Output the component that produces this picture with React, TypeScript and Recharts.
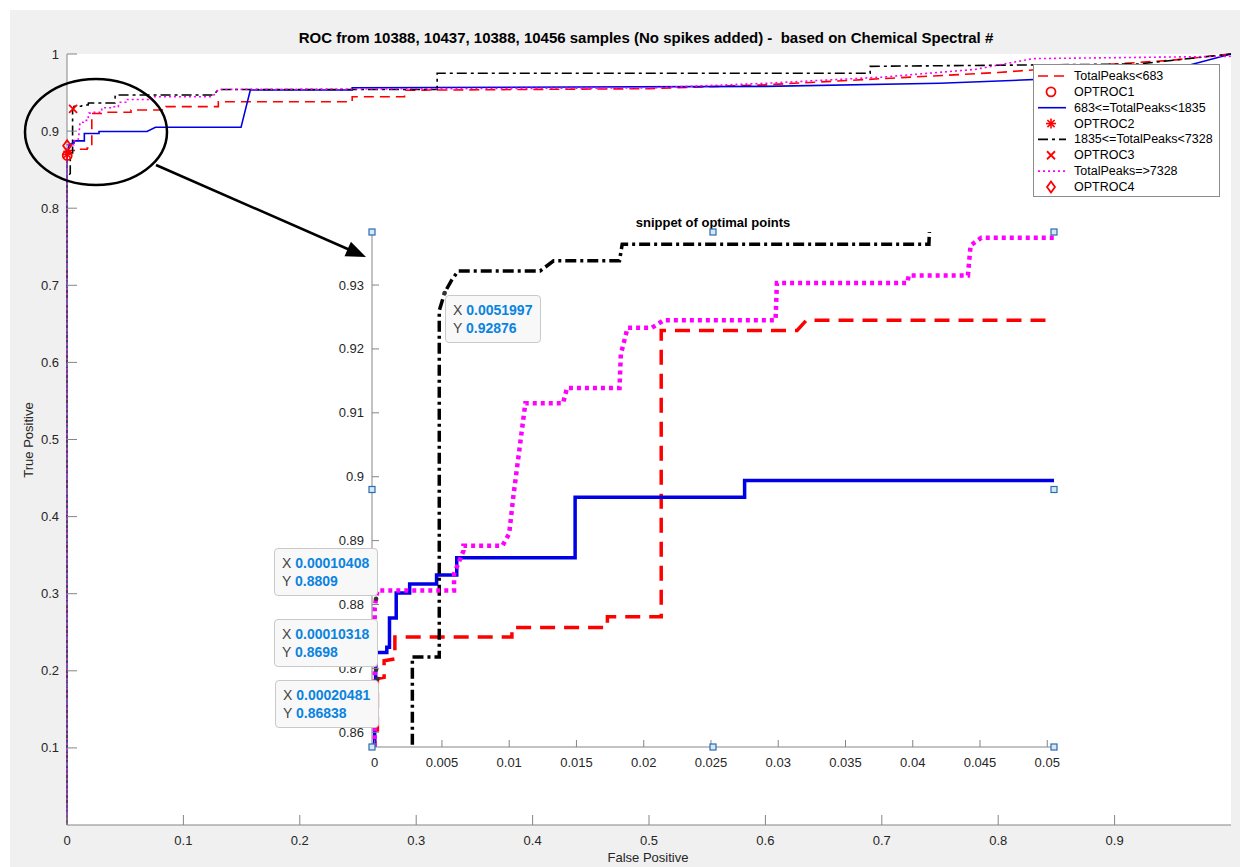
import { ComposedChart, Line, Scatter, XAxis, YAxis, CartesianGrid } from 'recharts'

type Pt = [number, number]

// ROC curves, [false positive, true positive]
const redCurve: Pt[] = [
  [0, 0], [0, 0.8585], [0.0002, 0.86], [0.0002, 0.8684], [0.0007, 0.8686], [0.0007, 0.8712],
  [0.0015, 0.8715], [0.0015, 0.8749], [0.0102, 0.8749], [0.0102, 0.8764], [0.0173, 0.8764],
  [0.0173, 0.8781], [0.0213, 0.8781], [0.0213, 0.9229], [0.0314, 0.9229], [0.0321, 0.9245],
  [0.055, 0.9245], [0.055, 0.9274], [0.085, 0.9274], [0.085, 0.9317], [0.13, 0.9317],
  [0.13, 0.938], [0.245, 0.938], [0.245, 0.9446], [0.29, 0.9446], [0.29, 0.953], [0.5, 0.955],
  [0.6, 0.96], [0.7, 0.968], [0.8, 0.976], [0.88, 0.985], [0.95, 0.992], [1, 1],
]
const blueCurve: Pt[] = [
  [0, 0], [0, 0.86], [0.0001, 0.8725], [0.0009, 0.8725], [0.0009, 0.8733], [0.0011, 0.8733],
  [0.0011, 0.8779], [0.0016, 0.8779], [0.0016, 0.8818], [0.0026, 0.8818], [0.0026, 0.8832],
  [0.0046, 0.8832], [0.0046, 0.8846], [0.0061, 0.8846], [0.0061, 0.8873], [0.0149, 0.8873],
  [0.0149, 0.8968], [0.0275, 0.8968], [0.0275, 0.8994], [0.0687, 0.8994], [0.076, 0.9049],
  [0.1495, 0.9049], [0.1575, 0.9533], [0.245, 0.9533], [0.245, 0.9563], [0.6, 0.958],
  [0.75, 0.962], [0.85, 0.968], [0.95, 0.98], [1, 1],
]
const blackCurve: Pt[] = [
  [0, 0], [0, 0.84], [0.0028, 0.845], [0.0028, 0.8718], [0.0048, 0.8718], [0.0048, 0.926],
  [0.0052, 0.9288], [0.0057, 0.9307], [0.0062, 0.9322], [0.0123, 0.9322], [0.0133, 0.9338],
  [0.0182, 0.9338], [0.0184, 0.9364], [0.0412, 0.9364], [0.0414, 0.9468], [0.126, 0.9468],
  [0.13, 0.954], [0.318, 0.954], [0.318, 0.975], [0.69, 0.975], [0.69, 0.984], [0.92, 0.987],
  [1, 1],
]
const magentaCurve: Pt[] = [
  [0, 0], [0, 0.8795], [0.0001, 0.8809], [0.0002, 0.8822], [0.0059, 0.8822], [0.0059, 0.8848],
  [0.0066, 0.8884], [0.0066, 0.8892], [0.0095, 0.8892], [0.01, 0.8911], [0.0103, 0.8968],
  [0.0112, 0.9115], [0.014, 0.9115], [0.0143, 0.9139], [0.0182, 0.9139], [0.0183, 0.9192],
  [0.0188, 0.9233], [0.0206, 0.9233], [0.0215, 0.9245], [0.0298, 0.9245], [0.0299, 0.9303],
  [0.0396, 0.9303], [0.0397, 0.9315], [0.0441, 0.9315], [0.0443, 0.9362], [0.0451, 0.9374],
  [0.052, 0.9374], [0.052, 0.941], [0.07, 0.941], [0.07, 0.9446], [0.125, 0.9446],
  [0.13, 0.954], [0.5, 0.956], [0.6, 0.962], [0.7, 0.97], [0.78, 0.98], [0.83, 0.994],
  [1, 0.997], [1, 1],
]

// optimal operating points
const optNames = ['OPTROC1', 'OPTROC2', 'OPTROC3', 'OPTROC4']
const optFP = [0.00020481, 0.00010318, 0.0051997, 0.00010408]
const optTP = [0.86838, 0.8698, 0.92876, 0.8809]

const mainXTicks = [0, 0.1, 0.2, 0.3, 0.4, 0.5, 0.6, 0.7, 0.8, 0.9]
const mainYTicks = [0.1, 0.2, 0.3, 0.4, 0.5, 0.6, 0.7, 0.8, 0.9, 1]
const insetXTicks = [0, 0.005, 0.01, 0.015, 0.02, 0.025, 0.03, 0.035, 0.04, 0.045, 0.05]
const insetYTicks = [0.86, 0.87, 0.88, 0.89, 0.9, 0.91, 0.92, 0.93]

const rows = (c: Pt[]) => c.map(([fp, tp]) => ({ fp, tp }))
const optRows = optNames.map((name, i) => ({ name, fp: optFP[i], tp: optTP[i] }))

const FONT = '"Liberation Sans", Arial, Helvetica, sans-serif'
const AX = '#858585'
const TXT = '#262626'
const TIP = '#0a84e0'

const series = [
  { name: 'TotalPeaks<683', data: rows(redCurve), color: '#ff0000', dash: '10 6', insetDash: '15 9', width: 3.5 },
  { name: '683<=TotalPeaks<1835', data: rows(blueCurve), color: '#0000e6', dash: undefined, insetDash: undefined, width: 3.5 },
  { name: '1835<=TotalPeaks<7328', data: rows(blackCurve), color: '#000000', dash: '10 4 3 4', insetDash: '11 4 3 4', width: 3.5 },
  { name: 'TotalPeaks=>7328', data: rows(magentaCurve), color: '#ff00ff', dash: '2 3', insetDash: '4 4', width: 4.5 },
]

function Marker({ kind, cx, cy }: { kind: string; cx: number; cy: number }) {
  const c = '#ff0000'
  if (kind === 'o') return <circle cx={cx} cy={cy} r={4.5} fill="none" stroke={c} strokeWidth={1.8} />
  if (kind === 'x')
    return (
      <g stroke={c} strokeWidth={1.8}>
        <line x1={cx - 4} y1={cy - 4} x2={cx + 4} y2={cy + 4} />
        <line x1={cx - 4} y1={cy + 4} x2={cx + 4} y2={cy - 4} />
      </g>
    )
  if (kind === '*')
    return (
      <g stroke={c} strokeWidth={1.6}>
        <line x1={cx - 5} y1={cy} x2={cx + 5} y2={cy} />
        <line x1={cx} y1={cy - 5} x2={cx} y2={cy + 5} />
        <line x1={cx - 3.6} y1={cy - 3.6} x2={cx + 3.6} y2={cy + 3.6} />
        <line x1={cx - 3.6} y1={cy + 3.6} x2={cx + 3.6} y2={cy - 3.6} />
      </g>
    )
  return (
    <polygon
      points={`${cx},${cy - 5.5} ${cx + 4},${cy} ${cx},${cy + 5.5} ${cx - 4},${cy}`}
      fill="none"
      stroke={c}
      strokeWidth={1.8}
    />
  )
}

const markerKinds = ['o', '*', 'x', 'd']

// inward tick marks, MATLAB style
const bottomTick = (len: number) => (p: any) => (
  <g>
    <line x1={p.x} x2={p.x} y1={p.y} y2={p.y - len} stroke={AX} />
    <text x={p.x} y={p.y + 15} textAnchor="middle" dominantBaseline="central" fontSize={13} fill={TXT} fontFamily={FONT}>
      {p.payload.value}
    </text>
  </g>
)
const topTick = (len: number) => (p: any) => <line x1={p.x} x2={p.x} y1={p.y} y2={p.y + len} stroke={AX} />
const leftTick = (len: number) => (p: any) => (
  <g>
    <line x1={p.x} x2={p.x + len} y1={p.y} y2={p.y} stroke={AX} />
    <text x={p.x - 8} y={p.y} textAnchor="end" dominantBaseline="central" fontSize={13} fill={TXT} fontFamily={FONT}>
      {p.payload.value}
    </text>
  </g>
)
const rightTick = (len: number) => (p: any) => <line x1={p.x} x2={p.x - len} y1={p.y} y2={p.y} stroke={AX} />

function Axes({ xd, yd, xt, yt, len, clip }: any) {
  return [
    <XAxis key="xb" xAxisId={0} type="number" dataKey="fp" domain={xd} ticks={xt} interval={0} allowDataOverflow={clip}
      height={25} tickSize={0} tickMargin={0} tickLine={false} axisLine={{ stroke: AX }} tick={bottomTick(len)} />,
    <XAxis key="xt" xAxisId="top" orientation="top" type="number" dataKey="fp" domain={xd} ticks={xt} interval={0} allowDataOverflow={clip}
      height={0} tickSize={0} tickMargin={0} tickLine={false} axisLine={{ stroke: AX }} tick={topTick(len)} />,
    <YAxis key="yl" yAxisId={0} type="number" dataKey="tp" domain={yd} ticks={yt} interval={0} allowDataOverflow={clip}
      width={40} tickSize={0} tickMargin={0} tickLine={false} axisLine={{ stroke: AX }} tick={leftTick(len)} />,
    <YAxis key="yr" yAxisId="right" orientation="right" type="number" dataKey="tp" domain={yd} ticks={yt} interval={0} allowDataOverflow={clip}
      width={0} tickSize={0} tickMargin={0} tickLine={false} axisLine={{ stroke: AX }} tick={rightTick(len)} />,
  ]
}

// selection handles around the inset axes
const handles: Pt[] = [
  [372, 232], [713, 232], [1054, 232], [372, 489.5], [1054, 489.5], [372, 747], [713, 747], [1054, 747],
]

const tips = [
  { left: 445, top: 295, i: 2 },
  { left: 274, top: 548, i: 3 },
  { left: 274, top: 619, i: 1 },
  { left: 275, top: 680, i: 0 },
]

export default function App() {
  return (
    <div style={{ position: 'relative', width: 1240, height: 867, background: '#fff', overflow: 'hidden', fontFamily: FONT }}>
      <style>{'body{margin:0}'}</style>
      <div style={{ position: 'absolute', left: 10, top: 10, right: 0, bottom: 0, background: '#f0f0f0' }} />

      <div style={{ position: 'absolute', left: 0, top: 0 }}>
        <ComposedChart width={1240} height={867} margin={{ top: 54, right: 9, bottom: 17, left: 27 }}>
          <CartesianGrid fill="#fff" horizontal={false} vertical={false} />
          {Axes({ xd: [0, 1], yd: [0, 1], xt: mainXTicks, yt: mainYTicks, len: 10, clip: false })}
          {series.map((s) => (
            <Line key={s.name} data={s.data} dataKey="tp" type="linear" stroke={s.color} strokeWidth={1.6}
              strokeDasharray={s.dash} dot={false} isAnimationActive={false} />
          ))}
          {optRows.map((r, i) => (
            <Scatter key={r.name} data={[r]} dataKey="tp" isAnimationActive={false}
              shape={(p: any) => <Marker kind={markerKinds[i]} cx={p.cx} cy={p.cy} />} />
          ))}
        </ComposedChart>
      </div>

      <div style={{ position: 'absolute', left: 300, top: 200 }}>
        <ComposedChart width={760} height={580} margin={{ top: 32, right: 6, bottom: 8, left: 32 }}>
          <CartesianGrid fill="#fff" horizontal={false} vertical={false} />
          {Axes({ xd: [-0.0002, 0.0505], yd: [0.8577, 0.9383], xt: insetXTicks, yt: insetYTicks, len: 7, clip: true })}
          {series.map((s) => (
            <Line key={s.name} data={s.data} dataKey="tp" type="linear" stroke={s.color} strokeWidth={s.width}
              strokeDasharray={s.insetDash} dot={false} isAnimationActive={false} />
          ))}
          <Scatter data={optRows} dataKey="tp" isAnimationActive={false}
            shape={(p: any) => <circle cx={p.cx} cy={p.cy} r={2.3} fill="#333" />} />
        </ComposedChart>
      </div>

      <svg width={1240} height={867} style={{ position: 'absolute', left: 0, top: 0, pointerEvents: 'none' }} fontFamily={FONT}>
        <text x={646} y={37} textAnchor="middle" dominantBaseline="central" fontSize={15} fontWeight="bold" fill="#000"
          style={{ whiteSpace: 'pre' }}>
          ROC from 10388, 10437, 10388, 10456 samples (No spikes added) -  based on Chemical Spectral #
        </text>
        <text x={648} y={857} textAnchor="middle" dominantBaseline="central" fontSize={13} fill={TXT}>False Positive</text>
        <text x={28} y={440} textAnchor="middle" dominantBaseline="central" fontSize={13} fill={TXT} transform="rotate(-90 28 440)">
          True Positive
        </text>
        <text x={713} y={222} textAnchor="middle" dominantBaseline="central" fontSize={13} fontWeight="bold" fill="#000">
          snippet of optimal points
        </text>
        <ellipse cx={96} cy={132} rx={71} ry={53} fill="none" stroke="#000" strokeWidth={2.5} />
        <line x1={156} y1={165} x2={350} y2={250} stroke="#000" strokeWidth={2.5} />
        <polygon points="366,257 344.5,256.3 350.9,241.7" fill="#000" />
        {handles.map(([x, y], i) => (
          <rect key={i} x={x - 3} y={y - 3} width={6} height={6} fill="#d6e8f7" stroke="#2a6cb0" strokeWidth={1.2} />
        ))}
      </svg>

      <div style={{ position: 'absolute', left: 1033, top: 64, width: 187, height: 133, background: '#fff', border: '1px solid #8c8c8c', boxSizing: 'border-box' }}>
        <svg width={187} height={133} fontFamily={FONT}>
          {series.map((s, i) => {
            const yl = 11 + i * 2 * 15.85
            const ym = yl + 15.85
            return (
              <g key={s.name}>
                <line x1={4} x2={32} y1={yl} y2={yl} stroke={s.color} strokeWidth={1.6} strokeDasharray={s.dash} />
                <text x={40} y={yl} dominantBaseline="central" fontSize={12.5} fill="#000">{s.name}</text>
                <Marker kind={markerKinds[i]} cx={17} cy={ym} />
                <text x={40} y={ym} dominantBaseline="central" fontSize={12.5} fill="#000">{optNames[i]}</text>
              </g>
            )
          })}
        </svg>
      </div>

      {tips.map((t) => (
        <div key={t.i} style={{
          position: 'absolute', left: t.left, top: t.top, padding: '5px 8px 5px 7px', background: '#f8f8f8',
          border: '1px solid #c9c9c9', borderRadius: 4, fontSize: 14, lineHeight: '18px', color: '#444', whiteSpace: 'nowrap',
        }}>
          <div>X <b style={{ color: TIP }}>{optFP[t.i]}</b></div>
          <div>Y <b style={{ color: TIP }}>{optTP[t.i]}</b></div>
        </div>
      ))}
    </div>
  )
}
